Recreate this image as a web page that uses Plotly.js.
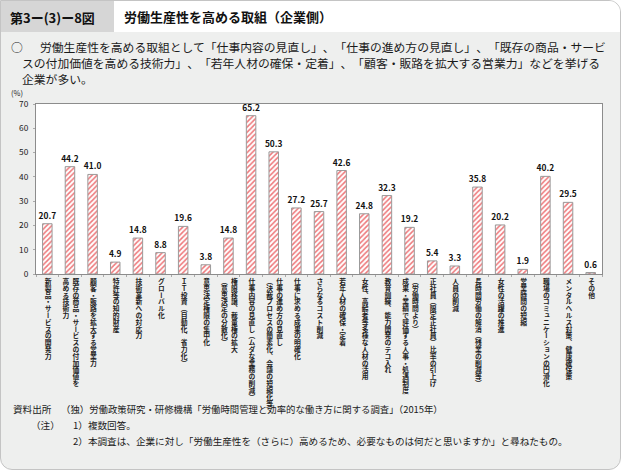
<!DOCTYPE html>
<html>
<head>
<meta charset="utf-8">
<script src="https://cdn.plot.ly/plotly-3.0.1.min.js"></script>
<style>
  html, body { margin:0; padding:0; background:#ffffff; }
  #wrap { position:relative; width:621px; height:470px; overflow:hidden; font-family:"Noto Sans CJK JP","Noto Sans",sans-serif; }
  #frame { position:absolute; left:0; top:0; width:619px; height:468px; border:1px solid #c4c4c4; border-radius:0 12px 12px 12px; background:#eeefee; overflow:hidden; }
  #tab { position:absolute; left:0; top:0; width:113px; height:31px; background:#d6d6d6; }
  #headw { position:absolute; left:113px; top:0; width:506px; height:31px; background:#ffffff; }
  #chart { position:absolute; left:0; top:0; width:621px; height:470px; }
  #labels { position:absolute; left:0; top:0; width:621px; height:470px; pointer-events:none; }
  #summary { position:absolute; left:22px; top:39px; font-size:11.8px; line-height:16px; color:#1a1a1a; white-space:nowrap; text-indent:18px; text-spacing-trim:space-all; }
  #bullet { position:absolute; left:11px; top:39px; font-size:11.8px; line-height:16px; color:#1a1a1a; }
  .vl { position:absolute; writing-mode:vertical-rl; text-orientation:mixed; font-size:6.8px; line-height:1.45; font-weight:700; color:#222; white-space:nowrap; transform:translateX(-50%); letter-spacing:0px; }
</style>
</head>
<body>
<div id="wrap">
  <div id="frame"><div id="tab"></div><div id="headw"></div></div>
  <div id="chart"></div>
  <div id="bullet">○</div>
  <div id="summary"></div>
  <div id="labels"></div>
</div>
<script>
const categories = [
  "新製品・サービスの開発力",
  "既存の商品・サービスの付加価値を高める技術力",
  "顧客・販路を拡大する営業力",
  "特許等の知的財産",
  "技術革新への対応力",
  "グローバル化",
  "IT投資（自動化、省力化）",
  "意思決定権限の集中化",
  "権限移譲、裁量権の拡大（意思決定の分散化）",
  "仕事内容の見直し（ムダな業務の削減）",
  "仕事の進め方の見直し（決裁プロセスの簡素化、会議の短縮化等）",
  "仕事に求める成果の明確化",
  "さらなるコスト削減",
  "若年人材の確保・定着",
  "女性、高齢者等多様な人材の活用",
  "教育訓練、能力開発のテコ入れ",
  "（労働時間より）成果・業績で評価する人事・処遇制度",
  "正社員（限定正社員）比率の引上げ",
  "人員の削減",
  "長時間労働の解消（残業の削減等）",
  "女性の活躍の推進",
  "営業時間の短縮",
  "職場のコミュニケーションの円滑化",
  "メンタルヘルス対策、健康確保策",
  "その他"
];
const values = [20.7, 44.2, 41.0, 4.9, 14.8, 8.8, 19.6, 3.8, 14.8, 65.2, 50.3, 27.2, 25.7, 42.6, 24.8, 32.3, 19.2, 5.4, 3.3, 35.8, 20.2, 1.9, 40.2, 29.5, 0.6];
// vertical tick labels, columns in reading order (right column first)
const tickLabels = [
  ["新製品・サービスの開発力"],
  ["既存の商品・サービスの付加価値を", "高める技術力"],
  ["顧客・販路を拡大する営業力"],
  ["特許等の知的財産"],
  ["技術革新への対応力"],
  ["グローバル化"],
  ["ＩＴ投資（自動化、省力化）"],
  ["意思決定権限の集中化"],
  ["権限移譲、裁量権の拡大", "（意思決定の分散化）"],
  ["仕事内容の見直し（ムダな業務の削減）"],
  ["仕事の進め方の見直し", "（決裁プロセスの簡素化、会議の短縮化等）"],
  ["仕事に求める成果の明確化"],
  ["さらなるコスト削減"],
  ["若年人材の確保・定着"],
  ["女性、高齢者等多様な人材の活用"],
  ["教育訓練、能力開発のテコ入れ"],
  ["（労働時間より）", "成果・業績で評価する人事・処遇制度"],
  ["正社員（限定正社員）比率の引上げ"],
  ["人員の削減"],
  ["長時間労働の解消（残業の削減等）"],
  ["女性の活躍の推進"],
  ["営業時間の短縮"],
  ["職場のコミュニケーションの円滑化"],
  ["メンタルヘルス対策、健康確保策"],
  ["その他"]
];
const yTicks = [0, 10, 20, 30, 40, 50, 60, 70];
const figureNo = "第3ー(3)ー8図";
const chartTitle = "労働生産性を高める取組（企業側）";
const summaryLines = [
  "労働生産性を高める取組として「仕事内容の見直し」、「仕事の進め方の見直し」、「既存の商品・サービ",
  "スの付加価値を高める技術力」、「若年人材の確保・定着」、「顧客・販路を拡大する営業力」などを挙げる",
  "企業が多い。"
];
const sourceText = "（独）労働政策研究・研修機構「労働時間管理と効率的な働き方に関する調査」（2015年）";
const notes = ["1）複数回答。", "2）本調査は、企業に対し「労働生産性を（さらに）高めるため、必要なものは何だと思いますか」と尋ねたもの。"];

document.getElementById('summary').innerHTML = summaryLines.join('<br>');

const W = 621, H = 470;
const M = {l: 36, r: 19, t: 104, b: 196};
const pw = W - M.l - M.r, ph = H - M.t - M.b;
const px = x => (x - M.l) / pw;
const py = y => (H - M.b - y) / ph;
const FONT = '"Noto Sans CJK JP", "Noto Sans", sans-serif';

function ann(text, x, y, size, opts) {
  return Object.assign({
    text: text, xref: 'paper', yref: 'paper', x: px(x), y: py(y),
    xanchor: 'left', yanchor: 'middle', showarrow: false, borderpad: 0,
    font: {family: FONT, size: size, color: '#1a1a1a'}
  }, opts || {});
}

const annotations = [
  ann(figureNo, 9, 17, 13, {font: {family: FONT, size: 13, color: '#111', weight: 700}}),
  ann("(%)", 10, 92, 7.5, {font: {family: FONT, size: 7.5, color: '#222'}}),
  ann("資料出所", 12, 409, 9.6),
  ann(sourceText, 60, 409, 9.4),
  ann("（注）", 30, 425, 9.6),
  ann(notes[0], 72, 425, 9.6),
  ann(notes[1], 72, 441, 9.6)
];

const trace = {
  type: 'bar',
  x: categories,
  y: values,
  marker: {
    color: '#ffffff',
    line: {color: '#9a9a9a', width: 1},
    pattern: {shape: '/', fgcolor: '#ee7a7d', bgcolor: '#ffffff', size: 3.6, solidity: 0.45}
  },
  text: values.map(v => v.toFixed(1)),
  textposition: 'outside',
  constraintext: 'none',
  cliponaxis: false,
  textfont: {family: FONT, size: 8.4, color: '#111', weight: 700},
  hoverinfo: 'skip'
};

const layout = {
  width: W, height: H,
  margin: M,
  paper_bgcolor: 'rgba(0,0,0,0)',
  plot_bgcolor: '#ffffff',
  showlegend: false,
  bargap: 0.58,
  title: {
    text: chartTitle, xref: 'container', yref: 'container',
    x: 124 / W, xanchor: 'left', y: 1 - 17 / H, yanchor: 'middle',
    font: {family: FONT, size: 13, color: '#111', weight: 700}
  },
  xaxis: {
    type: 'category',
    showticklabels: false,
    ticks: 'outside', tickson: 'boundaries', ticklen: 2, tickcolor: '#aaaaaa', tickwidth: 1,
    showline: true, linecolor: '#8c8c8c', linewidth: 1, mirror: true,
    showgrid: false, zeroline: false, fixedrange: true
  },
  yaxis: {
    range: [0, 70], tickvals: yTicks, ticktext: yTicks.map(String),
    ticks: 'outside', ticklen: 2, tickcolor: '#aaaaaa',
    tickfont: {family: FONT, size: 8.3, color: '#222'},
    showline: true, linecolor: '#8c8c8c', linewidth: 1, mirror: true,
    showgrid: false, zeroline: false, fixedrange: true, ticklabelstandoff: 3
  },
  annotations: annotations
};

const gd = document.getElementById('chart');
Plotly.newPlot(gd, [trace], layout, {displayModeBar: false, staticPlot: true}).then(() => {
  const xa = gd._fullLayout.xaxis;
  const ya = gd._fullLayout.yaxis;
  const top = ya._offset + ya._length + 4;
  const box = document.getElementById('labels');
  tickLabels.forEach((cols, i) => {
    const d = document.createElement('div');
    d.className = 'vl';
    d.innerHTML = cols.join('<br>');
    d.style.left = (xa._offset + xa.l2p(i)) + 'px';
    d.style.top = top + 'px';
    box.appendChild(d);
  });
});
</script>
</body>
</html>
